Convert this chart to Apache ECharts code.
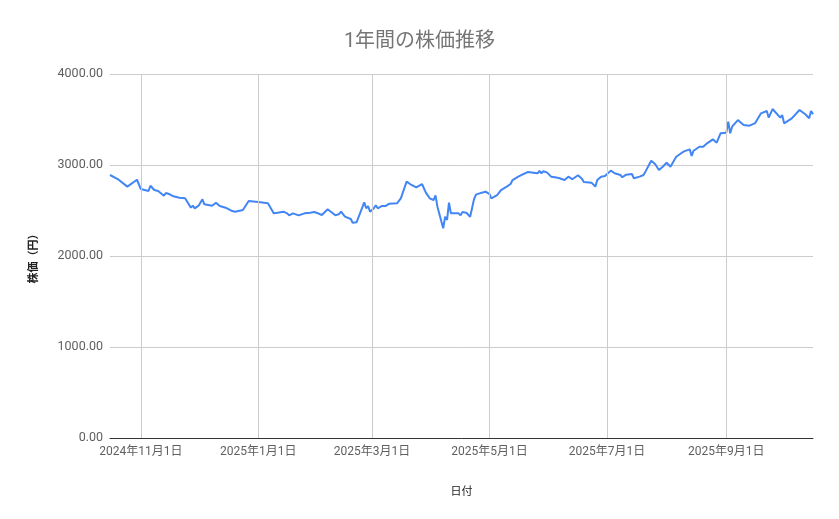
<!DOCTYPE html>
<html>
<head>
<meta charset="utf-8">
<script src="https://cdn.jsdelivr.net/npm/echarts@6/dist/echarts.min.js"></script>
<style>
html,body{margin:0;padding:0;background:#fff;}
#chart{width:839px;height:519px;}
</style>
</head>
<body>
<div id="chart"></div>
<script>
// 日付（取引日）
var dates = [
 '2024-10-16','2024-10-20','2024-10-25','2024-10-30','2024-10-31','2024-11-01','2024-11-05','2024-11-06','2024-11-08','2024-11-10',
 '2024-11-13','2024-11-14','2024-11-16','2024-11-18','2024-11-19','2024-11-21','2024-11-24','2024-11-27','2024-11-28','2024-11-29',
 '2024-12-01','2024-12-03','2024-12-04','2024-12-08','2024-12-10','2024-12-12','2024-12-15','2024-12-18','2024-12-20','2024-12-24',
 '2024-12-27','2025-01-01','2025-01-06','2025-01-09','2025-01-11','2025-01-14','2025-01-16','2025-01-17','2025-01-19','2025-01-22',
 '2025-01-25','2025-01-28','2025-01-30','2025-02-01','2025-02-03','2025-02-06','2025-02-10','2025-02-12','2025-02-13','2025-02-15',
 '2025-02-18','2025-02-19','2025-02-21','2025-02-22','2025-02-25','2025-02-26','2025-02-27','2025-02-28','2025-03-02','2025-03-03',
 '2025-03-04','2025-03-06','2025-03-08','2025-03-10','2025-03-14','2025-03-16','2025-03-19','2025-03-21','2025-03-24','2025-03-27',
 '2025-03-29','2025-03-31','2025-04-01','2025-04-02','2025-04-03','2025-04-04','2025-04-07','2025-04-08','2025-04-09','2025-04-10',
 '2025-04-11','2025-04-13','2025-04-15','2025-04-16','2025-04-17','2025-04-19','2025-04-21','2025-04-23','2025-04-24','2025-04-27',
 '2025-04-29','2025-05-01','2025-05-02','2025-05-05','2025-05-07','2025-05-08','2025-05-10','2025-05-12','2025-05-13','2025-05-16',
 '2025-05-18','2025-05-21','2025-05-22','2025-05-24','2025-05-26','2025-05-27','2025-05-28','2025-05-29','2025-05-31','2025-06-02',
 '2025-06-03','2025-06-04','2025-06-06','2025-06-09','2025-06-11','2025-06-13','2025-06-14','2025-06-16','2025-06-18','2025-06-19',
 '2025-06-23','2025-06-25','2025-06-26','2025-06-28','2025-06-30','2025-07-03','2025-07-05','2025-07-08','2025-07-09','2025-07-11',
 '2025-07-14','2025-07-15','2025-07-16','2025-07-18','2025-07-20','2025-07-21','2025-07-24','2025-07-26','2025-07-28','2025-07-30',
 '2025-08-01','2025-08-03','2025-08-05','2025-08-06','2025-08-08','2025-08-10','2025-08-13','2025-08-14','2025-08-15','2025-08-18',
 '2025-08-20','2025-08-22','2025-08-25','2025-08-27','2025-08-29','2025-09-01','2025-09-02','2025-09-03','2025-09-04','2025-09-07',
 '2025-09-10','2025-09-13','2025-09-16','2025-09-17','2025-09-19','2025-09-22','2025-09-23','2025-09-25','2025-09-29','2025-09-30',
 '2025-10-01','2025-10-05','2025-10-09','2025-10-12','2025-10-14','2025-10-15','2025-10-16'
];
// 株価（円）
var prices = [
 2890,2846,2762,2838,2824,2736,2714,2772,2725,2714,
 2663,2692,2678,2656,2674,2641,2634,2531,2553,2524,
 2553,2623,2568,2553,2586,2549,2531,2498,2487,2505,
 2604,2593,2579,2469,2476,2487,2469,2447,2469,2447,
 2469,2476,2483,2469,2451,2513,2447,2462,2487,2432,
 2407,2366,2370,2388,2590,2524,2549,2487,2524,2557,
 2524,2549,2549,2575,2579,2634,2817,2788,2755,2791,
 2696,2634,2652,2615,2667,2542,2304,2432,2396,2586,
 2469,2469,2469,2447,2483,2476,2432,2623,2674,2696,
 2707,2681,2634,2670,2725,2711,2762,2791,2835,2872,
 2894,2923,2909,2916,2909,2934,2909,2931,2916,2872,
 2879,2865,2857,2835,2872,2843,2857,2887,2850,2813,
 2806,2762,2835,2872,2879,2938,2909,2890,2865,2894,
 2901,2854,2872,2872,2890,2927,3047,3011,2945,2981,
 3025,2981,3055,3091,3121,3150,3172,3099,3157,3201,
 3201,3238,3282,3245,3348,3355,3476,3348,3421,3494,
 3440,3432,3461,3447,3568,3593,3520,3615,3520,3549,
 3458,3513,3604,3557,3513,3593,3557
];
// 目盛りの日付
var tickDates = ['2024-11-01','2025-01-01','2025-03-01','2025-05-01','2025-07-01','2025-09-01'];
var startDate = '2024-10-16';
var endDate = '2025-10-16';

function toTime(s) {
	var p = s.split('-');
	return Date.UTC(+p[0], +p[1] - 1, +p[2]);
}

var seriesData = [];
for (var i = 0; i < dates.length; i++) {
	seriesData.push([toTime(dates[i]), prices[i]]);
}
var tickValues = tickDates.map(toTime);

var font = 'Roboto, "Noto Sans CJK JP", sans-serif';
var chart = echarts.init(document.getElementById('chart'), null, {renderer: 'canvas'});
var option = {
	animation: false,
	backgroundColor: '#ffffff',
	title: {
		text: '1年間の株価推移',
		left: 'center',
		top: 27,
		textStyle: {fontFamily: font, fontSize: 20, fontWeight: 'normal', color: '#757575'}
	},
	grid: {left: 110, right: 26, top: 74, bottom: 81},
	xAxis: {
		type: 'value',
		min: toTime(startDate),
		max: toTime(endDate),
		name: '日付',
		nameLocation: 'middle',
		nameGap: 49,
		nameTextStyle: {fontFamily: font, fontSize: 11, color: '#222222'},
		axisLine: {show: true, onZero: false, lineStyle: {color: '#333333', width: 1}},
		axisTick: {show: false, customValues: tickValues},
		splitLine: {show: false},
		axisLabel: {
			customValues: tickValues,
			showMinLabel: true,
			showMaxLabel: true,
			hideOverlap: false,
			margin: 8,
			fontFamily: font,
			fontSize: 12,
			color: '#5f5f5f',
			formatter: function (v) {
				var d = new Date(v);
				return d.getUTCFullYear() + '年' + (d.getUTCMonth() + 1) + '月' + d.getUTCDate() + '日';
			}
		}
	},
	yAxis: {
		type: 'value',
		min: 0,
		max: 4000,
		interval: 1000,
		name: '株価（円）',
		nameLocation: 'middle',
		nameGap: 70,
		nameRotate: 90,
		nameTextStyle: {fontFamily: font, fontSize: 11, fontWeight: 'bold', color: '#222222'},
		axisLine: {show: false},
		axisTick: {show: false},
		splitLine: {lineStyle: {color: '#cccccc', width: 1}},
		axisLabel: {
			margin: 7,
			fontFamily: font,
			fontSize: 12.5,
			color: '#5f5f5f',
			formatter: function (v) { return v.toFixed(2); }
		}
	},
	series: [
		{
			// 縦の目盛り線
			name: 'grid',
			type: 'line',
			data: [],
			silent: true,
			z: 1,
			markLine: {
				silent: true,
				symbol: ['none', 'none'],
				label: {show: false},
				lineStyle: {color: '#cccccc', width: 1, type: 'solid'},
				data: tickValues.map(function (t) { return {xAxis: t}; })
			}
		},
		{
			name: '株価',
			type: 'line',
			data: seriesData,
			showSymbol: false,
			z: 3,
			lineStyle: {color: '#4285f4', width: 2},
			itemStyle: {color: '#4285f4'}
		}
	]
};
chart.setOption(option);
</script>
</body>
</html>
